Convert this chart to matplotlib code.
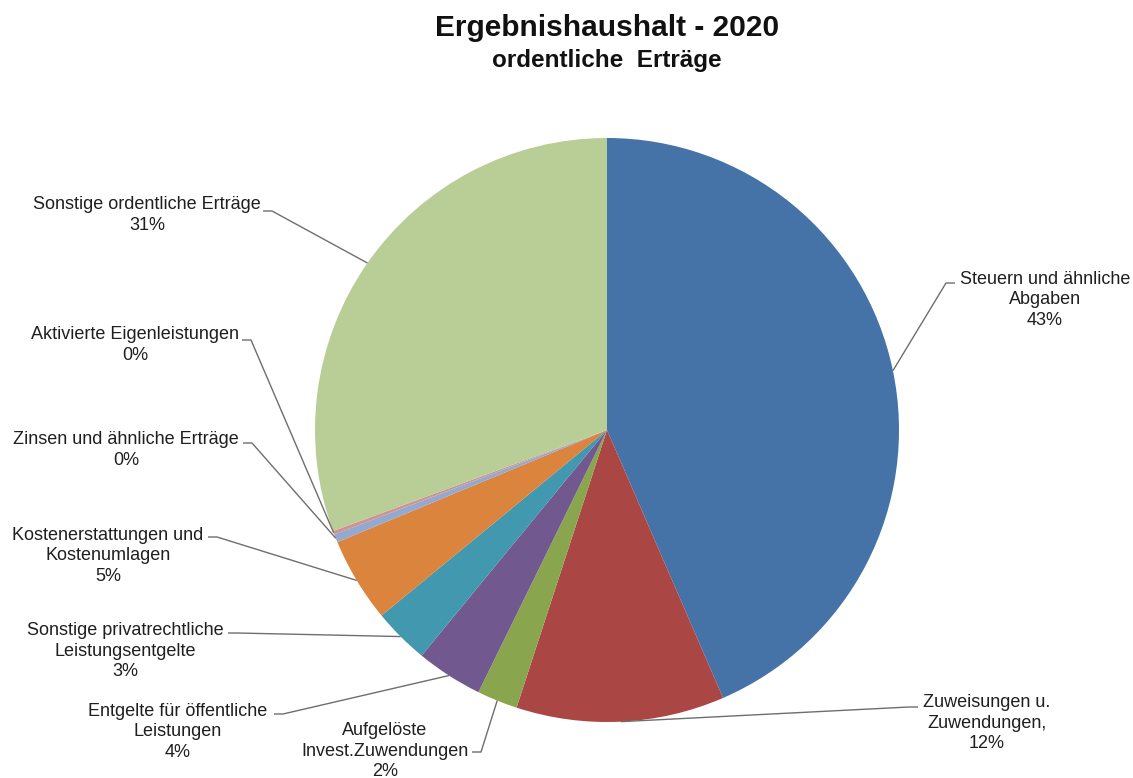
import numpy as np
import matplotlib
matplotlib.use("Agg")
import matplotlib.pyplot as plt

# Ergebnishaushalt 2020 - ordentliche Ertraege (Anteile in %)
categories = [
    "Steuern und ähnliche\nAbgaben",
    "Zuweisungen u.\nZuwendungen,",
    "Aufgelöste\nInvest.Zuwendungen",
    "Entgelte für öffentliche\nLeistungen",
    "Sonstige privatrechtliche\nLeistungsentgelte",
    "Kostenerstattungen und\nKostenumlagen",
    "Zinsen und ähnliche Erträge",
    "Aktivierte Eigenleistungen",
    "Sonstige ordentliche Erträge",
]
values = [43.6, 11.55, 2.25, 3.7, 3.1, 4.7, 0.45, 0.2, 30.7]
colors = ["#4572A7", "#AA4643", "#89A54E", "#71588F", "#4198AF",
          "#DB843D", "#93A9CF", "#D19392", "#B9CD96"]

# label layout in image pixels: text centre, end of leader line at text
text_pos = [(1045, 300), (987, 723), (385, 751), (178, 732), (125, 651),
            (108, 556), (126, 450), (135, 345), (147, 215)]
line_end = [(955, 283), (918, 707), (472, 752), (274, 714), (228, 633),
            (208, 537), (243, 443), (242, 340), (263, 211)]

W, H = 1133, 778
CX, CY, R = 607, 430, 292

plt.rcParams["font.family"] = ["Liberation Sans", "DejaVu Sans"]

fig = plt.figure(figsize=(W / 100, H / 100), dpi=100)
ax = fig.add_axes([(CX - R) / W, (H - CY - R) / H, 2 * R / W, 2 * R / H])

wedges, _ = ax.pie(values, colors=colors, startangle=90, counterclock=False,
                   radius=1.0, wedgeprops=dict(linewidth=0))
ax.set_xlim(-1, 1)
ax.set_ylim(-1, 1)
ax.set_aspect("equal")
ax.axis("off")


def px2data(px, py):
    return (px - CX) / R, (CY - py) / R


total = sum(values)
for i, w in enumerate(wedges):
    pct = values[i] / total * 100
    label = f"{categories[i]}\n{pct:.0f}%"
    tx, ty = px2data(*text_pos[i])
    ax.text(tx, ty, label, ha="center", va="center", multialignment="center",
            fontsize=13, color="#1f1f1f", linespacing=1.28, clip_on=False)

    mid = np.deg2rad((w.theta1 + w.theta2) / 2)
    x0, y0 = np.cos(mid), np.sin(mid)
    ex, ey = px2data(*line_end[i])
    # short horizontal tick at the text, then straight to the slice
    step = 9 / R if ex < x0 else -9 / R
    ax.plot([ex, ex + step, x0], [ey, ey, y0], color="#6e6e6e", lw=1.0,
            clip_on=False, solid_capstyle="butt")

fig.text(CX / W, 1 - 28 / H, "Ergebnishaushalt - 2020", ha="center",
         va="center", fontsize=21.5, fontweight="bold", color="#111111")
fig.text(CX / W, 1 - 61 / H, "ordentliche  Erträge", ha="center",
         va="center", fontsize=17.5, fontweight="bold", color="#111111")

fig.savefig("out.png", dpi=100)
